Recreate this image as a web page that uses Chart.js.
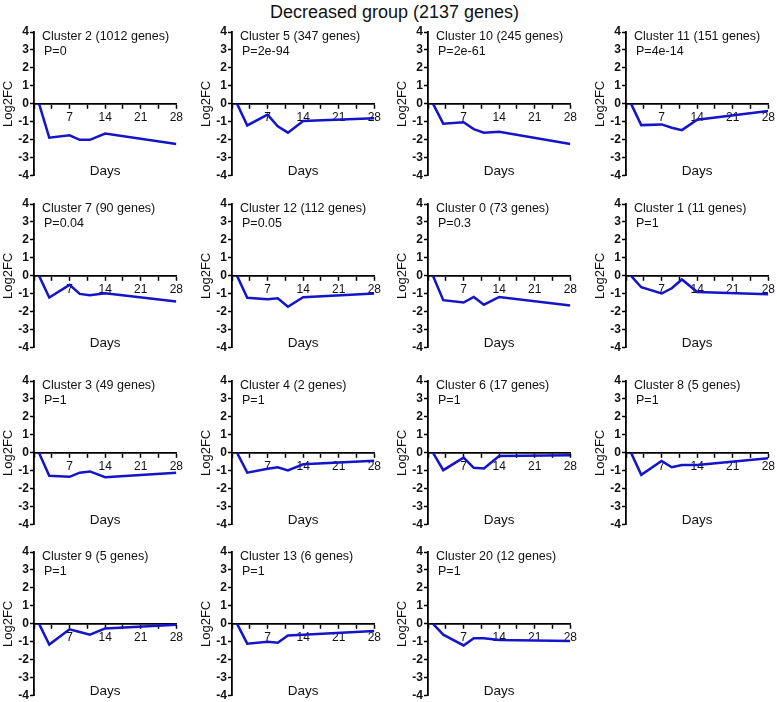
<!DOCTYPE html>
<html>
<head>
<meta charset="utf-8">
<script src="https://cdn.jsdelivr.net/npm/chart.js@4.4.0/dist/chart.umd.min.js"></script>
<style>
body { margin: 0; background: #fff; width: 777px; height: 702px; position: relative; overflow: hidden; font-family: "Liberation Sans", Arial, sans-serif; }
#title { position: absolute; left: 6px; top: 0px; width: 777px; text-align: center; font-size: 18px; line-height: 24px; color: #111; }
canvas { position: absolute; }
</style>
</head>
<body>
<div id="title">Decreased group (2137 genes)</div>
<script>
// sampling days
var days = [1, 3, 7, 9, 11, 14, 28];

var clusterNames = ["Cluster 2 (1012 genes)", "Cluster 5 (347 genes)", "Cluster 10 (245 genes)", "Cluster 11 (151 genes)",
    "Cluster 7 (90 genes)", "Cluster 12 (112 genes)", "Cluster 0 (73 genes)", "Cluster 1 (11 genes)",
    "Cluster 3 (49 genes)", "Cluster 4 (2 genes)", "Cluster 6 (17 genes)", "Cluster 8 (5 genes)",
    "Cluster 9 (5 genes)", "Cluster 13 (6 genes)", "Cluster 20 (12 genes)"];
var pTexts = ["P=0", "P=2e-94", "P=2e-61", "P=4e-14",
    "P=0.04", "P=0.05", "P=0.3", "P=1",
    "P=1", "P=1", "P=1", "P=1",
    "P=1", "P=1", "P=1"];

// log2FC per cluster
var cluster2 = [0, -1.88, -1.75, -2.0, -2.0, -1.65, -2.23];
var cluster5 = [0, -1.2, -0.6, -1.25, -1.6, -0.95, -0.8];
var cluster10 = [0, -1.1, -1.02, -1.4, -1.6, -1.55, -2.23];
var cluster11 = [0, -1.18, -1.14, -1.33, -1.46, -0.88, -0.4];
var cluster7 = [0, -1.2, -0.5, -1.0, -1.07, -0.97, -1.42];
var cluster12 = [0, -1.22, -1.3, -1.25, -1.72, -1.19, -0.98];
var cluster0 = [0, -1.35, -1.48, -1.17, -1.6, -1.17, -1.65];
var cluster1 = [0, -0.63, -0.98, -0.69, -0.2, -0.9, -1.02];
var cluster3 = [0, -1.27, -1.33, -1.1, -1.03, -1.35, -1.1];
var cluster4 = [0, -1.1, -0.88, -0.8, -0.98, -0.63, -0.43];
var cluster6 = [0, -0.96, -0.26, -0.83, -0.87, -0.17, -0.13];
var cluster8 = [0, -1.22, -0.45, -0.8, -0.67, -0.67, -0.3];
var cluster9 = [0, -1.15, -0.3, -0.45, -0.6, -0.25, -0.05];
var cluster13 = [0, -1.1, -1.0, -1.05, -0.65, -0.6, -0.4];
var cluster20 = [0, -0.6, -1.2, -0.8, -0.8, -0.9, -0.95];

var seriesList = [cluster2, cluster5, cluster10, cluster11, cluster7, cluster12, cluster0, cluster1,
    cluster3, cluster4, cluster6, cluster8, cluster9, cluster13, cluster20];

var lineColor = "rgb(20,20,200)";
// y-axis x position per column, chart top per row
var colX = [34, 232, 428, 626];
var rowY = [32, 204, 381, 552];

Chart.defaults.font.family = "'Liberation Sans', Arial, sans-serif";

var panelText = {
    id: 'panelText',
    afterDraw: function (chart, args, opts) {
        var ctx = chart.ctx, a = chart.chartArea;
        ctx.save();
        ctx.fillStyle = "#111";
        ctx.textBaseline = "middle";
        ctx.textAlign = "left";
        ctx.font = "12.5px 'Liberation Sans', Arial, sans-serif";
        ctx.fillText(opts.name, a.left + 8, a.top + 5);
        ctx.fillText(opts.p, a.left + 10, a.top + 20);
        ctx.textAlign = "center";
        ctx.font = "13.5px 'Liberation Sans', Arial, sans-serif";
        ctx.fillText("Days", (a.left + a.right) / 2, a.bottom - 5);
        ctx.restore();
    }
};

function renderPanel(i) {
    var canvas = document.createElement("canvas");
    canvas.width = 185;
    canvas.height = 162;
    canvas.style.left = (colX[i % 4] - 33) + "px";
    canvas.style.top = (rowY[Math.floor(i / 4)] - 10) + "px";
    document.body.appendChild(canvas);

    var points = days.map(function (d, k) { return { x: d, y: seriesList[i][k] }; });

    new Chart(canvas.getContext("2d"), {
        type: "line",
        data: {
            datasets: [{
                data: points,
                borderColor: lineColor,
                borderWidth: 2.5,
                pointRadius: 0,
                tension: 0,
                fill: false
            }]
        },
        options: {
            responsive: false,
            animation: false,
            devicePixelRatio: 1,
            layout: { padding: { left: 0, top: 10, right: 8, bottom: 8 } },
            plugins: {
                legend: { display: false },
                tooltip: { enabled: false },
                panelText: { name: clusterNames[i], p: pTexts[i] }
            },
            scales: {
                x: {
                    type: "linear",
                    min: 0,
                    max: 28,
                    position: { y: 0 },
                    afterFit: function (s) { s.height = 0; },
                    grid: { drawOnChartArea: false, tickLength: 4, tickColor: "#000", tickWidth: 1.5 },
                    border: { color: "#000", width: 1.8 },
                    ticks: {
                        stepSize: 3.5,
                        autoSkip: false,
                        maxRotation: 0,
                        padding: 3,
                        color: "#111",
                        font: { size: 12 },
                        callback: function (v) { return (v > 0 && v % 7 === 0) ? v : ""; }
                    }
                },
                y: {
                    min: -4,
                    max: 4,
                    afterFit: function (s) { s.width = 33; },
                    grid: { drawOnChartArea: false, tickLength: 4, tickColor: "#000", tickWidth: 1.5 },
                    border: { color: "#000", width: 1.8 },
                    ticks: { stepSize: 1, padding: 1, color: "#111", font: { size: 12, weight: "bold" } },
                    title: { display: true, text: "Log2FC", color: "#111", font: { size: 13 }, padding: 0 }
                }
            }
        },
        plugins: [panelText]
    });
}

for (var i = 0; i < seriesList.length; i++) {
    renderPanel(i);
}
</script>
</body>
</html>
